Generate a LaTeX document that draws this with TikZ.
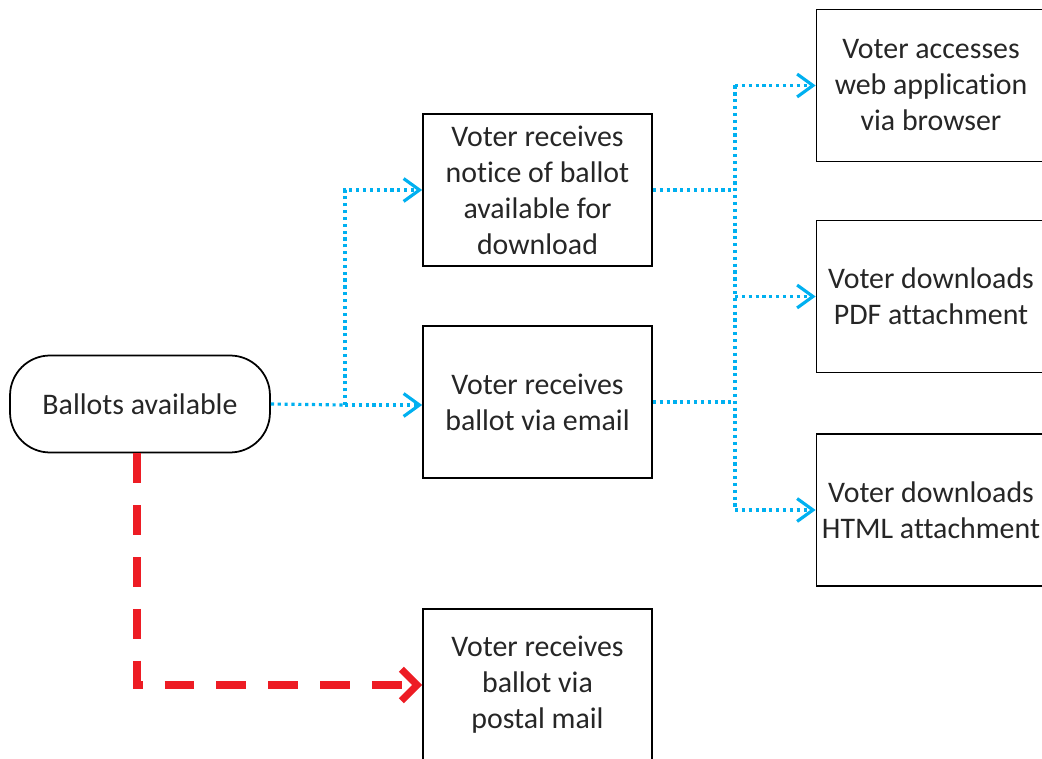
\documentclass[tikz,border=0pt]{standalone}
\usepackage{fontspec}
\setmainfont{Carlito}[Ligatures=NoCommon]
\usetikzlibrary{arrows.meta}
\definecolor{flowblue}{RGB}{0,176,240}
\definecolor{flowred}{RGB}{237,28,36}
\begin{document}
\begin{tikzpicture}[x=0.02cm,y=-0.02cm,
  font=\fontsize{17}{20.5}\selectfont,
  stepbox/.style={draw, line width=1pt, minimum width=4.58cm, minimum height=3.04cm,
    align=center, inner sep=0pt, text=black!85},
  startnode/.style={draw, line width=1pt, rounded corners=0.8cm, minimum width=5.2cm,
    minimum height=1.94cm, inner sep=0pt, text=black!85},
  bluedots/.style={flowblue, line width=1.8pt, dash pattern=on 1.8pt off 2.1pt},
  bluearrow/.style={bluedots, -{Straight Barb[length=9pt,width=13pt,line width=1.8pt]}},
  redarrow/.style={flowred, line width=4pt, dash pattern=on 17pt off 12.5pt,
    -{Straight Barb[length=9pt,width=18pt,line width=4pt]}}]
\useasboundingbox (0,0) rectangle (1042,759);
\clip (0,0) rectangle (1042,759);

% start of the flow
\node[startnode] (start) at (140,404) {Ballots available};

% how the voter receives the ballot
\node[stepbox] (notice) at (537.5,190) {Voter receives\\notice of ballot\\available for\\download};
\node[stepbox] (email) at (537.5,402) {Voter receives\\ballot via email};
\node[stepbox] (postal) at (537.5,685) {Voter receives\\ballot via\\postal mail};

% how the voter gets at the ballot
\node[stepbox] (web) at (931,85.5) {Voter accesses\\web application\\via browser};
\node[stepbox] (pdf) at (931,296.5) {Voter downloads\\PDF attachment};
\node[stepbox] (html) at (931,510) {Voter downloads\\HTML attachment};

% electronic branch
\coordinate (splitA) at (345,405);
\coordinate (splitB) at (735,300);
\draw[bluedots] (start.east) -- (splitA);
\draw[bluearrow] (splitA) |- (notice.west);
\draw[bluearrow] (splitA) -- (splitA -| email.west);

\draw[bluedots] (notice.east) -- (notice.east -| splitB);
\draw[bluedots] (email.east) -- (email.east -| splitB);
\draw[bluedots] (splitB |- web.west) -- (splitB |- html.west);
\draw[bluearrow] (splitB |- web.west) -- (web.west);
\draw[bluearrow] (splitB |- pdf.west) -- (pdf.west);
\draw[bluearrow] (splitB |- html.west) -- (html.west);

% postal branch
\draw[redarrow] ([xshift=-0.06cm]start.south) |- (postal.west);
\end{tikzpicture}
\end{document}
